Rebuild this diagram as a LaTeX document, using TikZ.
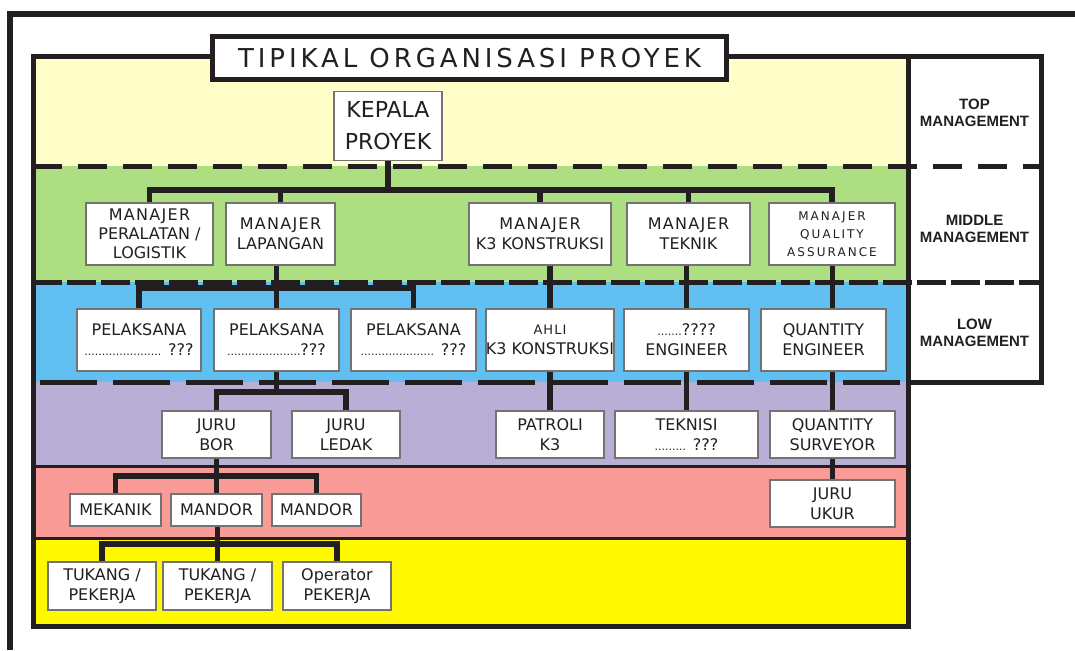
\documentclass[tikz,border=0pt]{standalone}
\usepackage{fontspec}
\setmainfont{DejaVu Sans}
\newfontfamily\mgmtfont{Liberation Sans}
\newfontfamily\widefont{DejaVu Sans}[LetterSpace=8]
\newfontfamily\widerfont{DejaVu Sans}[LetterSpace=17]
\usepackage{xcolor}
\definecolor{bandtop}{HTML}{FFFDC8}
\definecolor{bandmid}{HTML}{ADDE82}
\definecolor{bandlow}{HTML}{61BFF1}
\definecolor{bandpur}{HTML}{B9AFD6}
\definecolor{bandpink}{HTML}{F99C98}
\definecolor{bandyel}{HTML}{FFF800}
\definecolor{ink}{HTML}{231F20}
\newcommand\smalldots[1]{{\fontsize{11}{20}\selectfont #1}}

\begin{document}
\begin{tikzpicture}[x=1pt,y=-1pt,
  box/.style={draw=black!55,line width=1.5pt,fill=white,align=center,inner sep=0pt,
    text=ink,font=\fontsize{16}{20}\selectfont},
  conn/.style={draw=ink,line width=5.5pt},
  sep/.style={draw=ink,line width=5pt},
  mgmt/.style={align=center,text=ink,font=\mgmtfont\bfseries\fontsize{15}{17}\selectfont}]
  \useasboundingbox (0,0) rectangle (1075,650);
  % bands
  \fill[bandtop] (33,57) rectangle (908,166);
  \fill[bandmid] (33,166) rectangle (908,282);
  \fill[bandlow] (33,282) rectangle (908,382);
  \fill[bandpur] (33,382) rectangle (908,466);
  \fill[bandpink] (33,466) rectangle (908,538);
  \fill[bandyel] (33,538) rectangle (908,626);
  % separators
  \draw[sep,dash pattern=on 29pt off 16pt] (33,166) -- (1041,166);
  \draw[sep,dash pattern=on 29pt off 5pt] (33,282) -- (1041,282);
  \draw[sep,dash pattern=on 57pt off 16pt] (40,382) -- (908,382);
  \draw[sep] (908,382) -- (1041,382);
  \draw[ink,line width=3pt] (33,466) -- (908,466) (33,538) -- (908,538);
  % frames
  \draw[ink,line width=6pt] (7,14) -- (1075,14) (10,14) -- (10,650);
  \draw[ink,line width=5pt] (33,57) rectangle (908,626);
  \draw[ink,line width=5pt] (908,57) -- (1041,57) -- (1041,384.5);
  \node[draw=ink,line width=5pt,fill=white,minimum width=514pt,minimum height=43pt,inner sep=0pt,
    text=ink,font=\fontsize{26}{30}\selectfont\addfontfeature{LetterSpace=15}] (title) at (469.5,58) {TIPIKAL ORGANISASI PROYEK};

  \node[mgmt] (ltop) at (974.5,113) {TOP\\MANAGEMENT};
  \node[mgmt] (lmid) at (974.5,229) {MIDDLE\\MANAGEMENT};
  \node[mgmt] (llow) at (974.5,333) {LOW\\MANAGEMENT};

  % boxes
  \node[box,minimum width=108pt,minimum height=69pt,font=\fontsize{22}{32}\selectfont] (kepala) at (388,126) {KEPALA\\PROYEK};

  \node[box,minimum width=127pt,minimum height=62pt,font=\fontsize{16}{19}\selectfont] (mpl) at (149.5,234) {{\widefont MANAJER}\\PERALATAN /\\LOGISTIK};
  \node[box,minimum width=109pt,minimum height=62pt] (mlap) at (280.5,234) {{\widefont MANAJER}\\LAPANGAN};
  \node[box,minimum width=142pt,minimum height=62pt] (mk3) at (540,234) {{\widefont MANAJER}\\K3 KONSTRUKSI};
  \node[box,minimum width=123pt,minimum height=62pt] (mtek) at (688.5,234) {{\widefont MANAJER}\\TEKNIK};
  \node[box,minimum width=126pt,minimum height=62pt,font=\widerfont\fontsize{12}{18}\selectfont] (mqa) at (832,234) {MANAJER\\QUALITY\\ASSURANCE};

  \node[box,minimum width=124pt,minimum height=62pt] (pel1) at (139,340) {PELAKSANA\\\smalldots{......................} ???};
  \node[box,minimum width=125pt,minimum height=62pt] (pel2) at (276.5,340) {PELAKSANA\\\smalldots{.....................}???};
  \node[box,minimum width=125pt,minimum height=62pt] (pel3) at (413.5,340) {PELAKSANA\\\smalldots{.....................} ???};
  \node[box,minimum width=124pt,minimum height=62pt] (ahli) at (550,340) {{\widefont\fontsize{13}{20}\selectfont AHLI}\\K3 KONSTRUKSI};
  \node[box,minimum width=125pt,minimum height=62pt] (eng) at (686.5,340) {\smalldots{.......}????\\ENGINEER};
  \node[box,minimum width=125pt,minimum height=62pt] (qe) at (823.5,340) {QUANTITY\\ENGINEER};

  \node[box,minimum width=109pt,minimum height=47pt] (jbor) at (216.5,434.5) {JURU\\BOR};
  \node[box,minimum width=108pt,minimum height=47pt] (jledak) at (346,434.5) {JURU\\LEDAK};
  \node[box,minimum width=108pt,minimum height=47pt] (patroli) at (550,434.5) {PATROLI\\K3};
  \node[box,minimum width=143pt,minimum height=47pt] (teknisi) at (686.5,434.5) {TEKNISI\\\smalldots{.........} ???};
  \node[box,minimum width=125pt,minimum height=47pt] (qs) at (832.5,434.5) {QUANTITY\\SURVEYOR};

  \node[box,minimum width=91pt,minimum height=32pt] (mekanik) at (115.5,510) {MEKANIK};
  \node[box,minimum width=91pt,minimum height=32pt] (mandor1) at (216.5,510) {MANDOR};
  \node[box,minimum width=89pt,minimum height=32pt] (mandor2) at (316.5,510) {MANDOR};
  \node[box,minimum width=125pt,minimum height=47pt] (jukur) at (832.5,503.5) {JURU\\UKUR};

  \node[box,minimum width=108pt,minimum height=48pt] (tukang1) at (102,586) {TUKANG /\\PEKERJA};
  \node[box,minimum width=109pt,minimum height=48pt] (tukang2) at (217.5,586) {TUKANG /\\PEKERJA};
  \node[box,minimum width=108pt,minimum height=48pt] (operator) at (337,586) {Operator\\PEKERJA};

  % connectors
  \coordinate (bar1) at (0,190);
  \coordinate (bar2) at (0,288);
  \coordinate (bar3) at (0,392);
  \coordinate (bar4) at (0,476);
  \coordinate (bar5) at (0,544);
  \draw[conn] (kepala.south) -- (kepala.south |- bar1);
  \draw[conn] (mpl.north) |- (mqa.north |- bar1) -- (mqa.north);
  \foreach \n in {mlap,mk3,mtek}
    \draw[conn] (\n.north) -- (\n.north |- bar1);

  \draw[conn] (pel2.north |- mlap.south) -- (pel2.north);
  \draw[conn] (pel1.north) |- (pel3.north |- bar2) -- (pel3.north);
  \draw[conn] (ahli.north |- mk3.south) -- (ahli.north);
  \draw[conn] (eng.north |- mtek.south) -- (eng.north);
  \draw[conn] (qs.north |- mqa.south) -- (qs.north |- qe.north);

  \draw[conn] (pel2.south) -- (pel2.south |- bar3);
  \draw[conn] (jbor.north) |- (jledak.north |- bar3) -- (jledak.north);
  \draw[conn] (ahli.south) -- (patroli.north);
  \draw[conn] (eng.south) -- (teknisi.north);
  \draw[conn] (qs.north |- qe.south) -- (qs.north);

  \draw[conn] (jbor.south) -- (mandor1.north);
  \draw[conn] (mekanik.north) |- (mandor2.north |- bar4) -- (mandor2.north);
  \draw[conn] (qs.south) -- (jukur.north);

  \draw[conn] (tukang2.north |- mandor1.south) -- (tukang2.north);
  \draw[conn] (tukang1.north) |- (operator.north |- bar5) -- (operator.north);
\end{tikzpicture}
\end{document}
